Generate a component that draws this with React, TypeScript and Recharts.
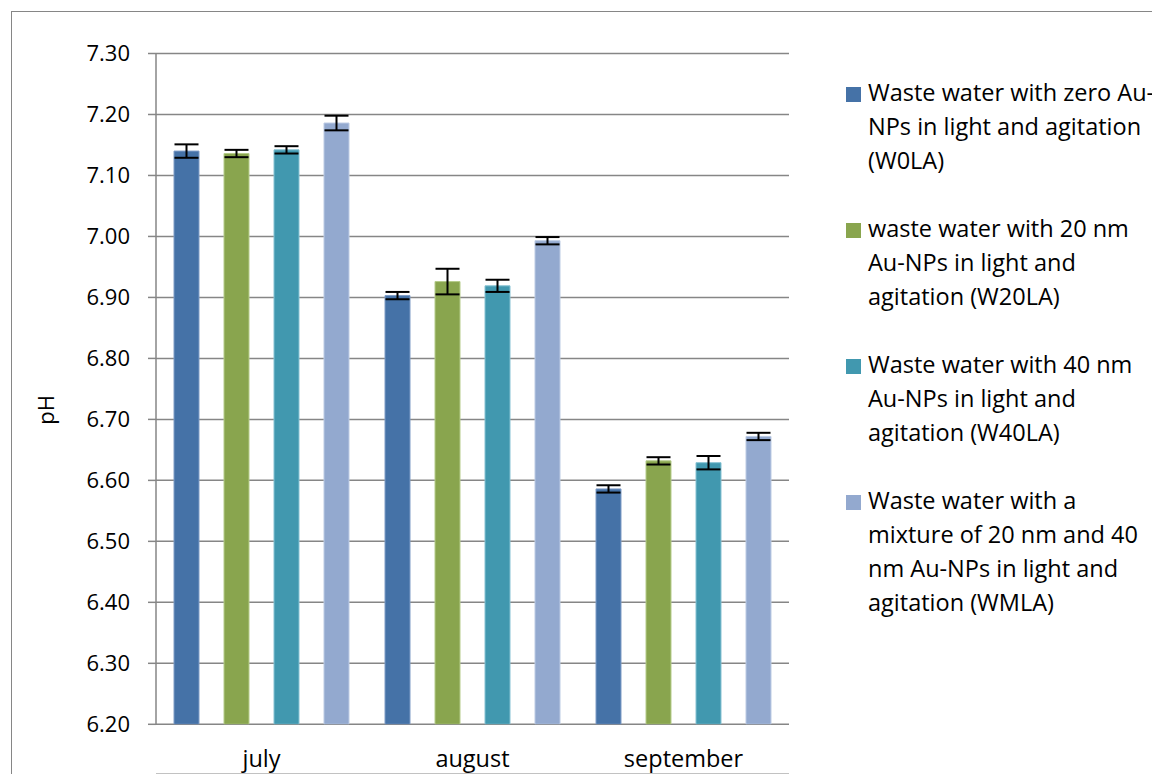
import React from 'react';
import { BarChart, Bar, XAxis, YAxis, CartesianGrid, ErrorBar, Legend } from 'recharts';

const months = ['july', 'august', 'september'];
const w0la = [7.14, 6.903, 6.586];
const w0laErr = [0.011, 0.006, 0.006];
const w20la = [7.136, 6.926, 6.632];
const w20laErr = [0.006, 0.021, 0.006];
const w40la = [7.142, 6.919, 6.629];
const w40laErr = [0.006, 0.01, 0.011];
const wmla = [7.186, 6.993, 6.672];
const wmlaErr = [0.012, 0.006, 0.006];
const yTicks = [6.2, 6.3, 6.4, 6.5, 6.6, 6.7, 6.8, 6.9, 7.0, 7.1, 7.2, 7.3];
const boundaryTicks = [0, 1, 2, 3];

const series = [
  { key: 'w0la', err: 'w0laErr', color: '#4572A7', edge: '#7f9cc6', lines: ['Waste water with zero Au-', 'NPs in light and agitation', '(W0LA)'] },
  { key: 'w20la', err: 'w20laErr', color: '#89A54E', edge: '#b5cc8a', lines: ['waste water with 20 nm', 'Au-NPs in light and', 'agitation (W20LA)'] },
  { key: 'w40la', err: 'w40laErr', color: '#4198AF', edge: '#86c2d3', lines: ['Waste water with 40 nm', 'Au-NPs in light and', 'agitation (W40LA)'] },
  { key: 'wmla', err: 'wmlaErr', color: '#93A9CF', edge: '#bccbe4', lines: ['Waste water with a', 'mixture of 20 nm and 40', 'nm Au-NPs in light and', 'agitation (WMLA)'] },
];

const data = months.map((m, i) => ({
  month: m,
  w0la: w0la[i], w0laErr: w0laErr[i],
  w20la: w20la[i], w20laErr: w20laErr[i],
  w40la: w40la[i], w40laErr: w40laErr[i],
  wmla: wmla[i], wmlaErr: wmlaErr[i],
}));

const FONT = '"Open Sans", sans-serif';
const GRID = '#868686';

const LegendContent = () => (
  <div style={{ fontFamily: FONT, fontSize: 23.5, color: '#000' }}>
    {series.map((s) => (
      <div key={s.key} style={{ display: 'flex', alignItems: 'flex-start', marginBottom: 34 }}>
        <div style={{ width: 15, height: 15, background: s.color, marginTop: 12, marginRight: 7, flex: '0 0 auto' }} />
        <div>
          {s.lines.map((l, j) => (
            <div key={j} style={{ lineHeight: '34px', whiteSpace: 'nowrap' }}>{l}</div>
          ))}
        </div>
      </div>
    ))}
  </div>
);

const YLabel = (props: any) => {
  const vb = props.viewBox || { x: 0, y: 0, width: 0, height: 0 };
  const cx = vb.x - 1;
  const cy = vb.y + vb.height / 2 + 21;
  return (
    <text x={cx} y={cy} transform={`rotate(-90 ${cx} ${cy})`} textAnchor="middle" dominantBaseline="central"
      style={{ fontFamily: FONT, fontSize: 22, fill: '#000' }}>pH</text>
  );
};

export default function App() {
  return (
    <div style={{ marginLeft: 3, marginTop: 3, width: 1160, height: 780, border: `1px solid ${GRID}`, boxSizing: 'border-box', overflow: 'hidden' }}>
      <BarChart width={1148} height={770} data={data} margin={{ top: 41.5, right: 371, bottom: 6.7, left: 34 }} barSize={25} barGap={25}>
        <CartesianGrid xAxisId="cat" vertical={false} stroke={GRID} strokeWidth={1.5} />
        <XAxis xAxisId="num" type="number" domain={[0, 3]} ticks={boundaryTicks} tick={false} height={1}
          axisLine={{ stroke: GRID, strokeWidth: 1.5 }} tickLine={{ stroke: GRID, strokeWidth: 1.5 }} tickSize={8} allowDataOverflow />
        <XAxis xAxisId="cat" dataKey="month" height={50} axisLine={false} tickLine={false} tickSize={0} tickMargin={26}
          tick={{ fontFamily: FONT, fontSize: 23.5, fill: '#000' }} />
        <YAxis domain={[6.2, 7.3]} ticks={yTicks} width={110} allowDataOverflow
          tickFormatter={(v: number) => v.toFixed(2)}
          axisLine={{ stroke: GRID, strokeWidth: 1.5 }} tickLine={{ stroke: GRID, strokeWidth: 1.5 }} tickSize={8} tickMargin={18}
          tick={{ fontFamily: FONT, fontSize: 22, fill: '#000' }}
          label={<YLabel />} />
        <Legend layout="vertical" align="center" verticalAlign="middle" content={<LegendContent />}
          wrapperStyle={{ left: 834, top: 63, width: 320 }} />
        {series.map((s) => (
          <Bar key={s.key} xAxisId="cat" dataKey={s.key} fill={s.color} stroke={s.edge} strokeWidth={1} isAnimationActive={false}>
            <ErrorBar dataKey={s.err} width={12} stroke="#000" strokeWidth={2} isAnimationActive={false} />
          </Bar>
        ))}
      </BarChart>
    </div>
  );
}
